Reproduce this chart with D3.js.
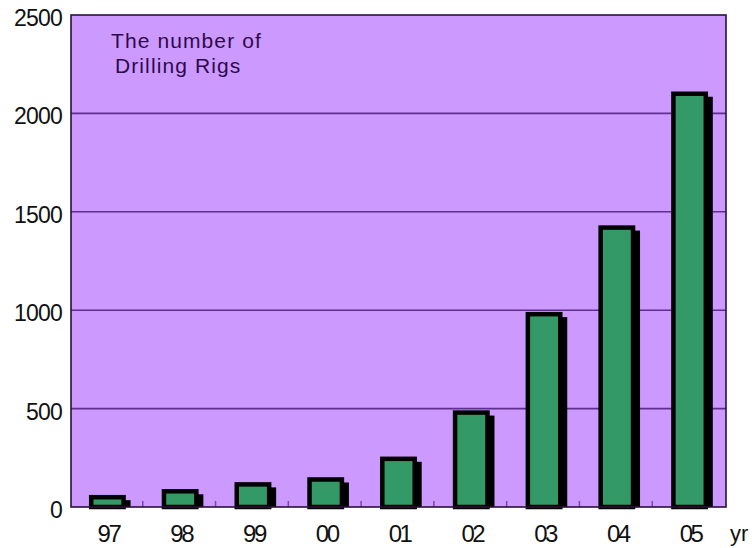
<!DOCTYPE html>
<html>
<head>
<meta charset="utf-8">
<script src="https://cdn.jsdelivr.net/npm/d3@7"></script>
<style>
  body { margin: 0; background: #fff; }
  svg text { font-family: Arial, "Liberation Sans", sans-serif; }
</style>
</head>
<body>
<svg id="chart" width="752" height="548"></svg>
<script>
// ---- data ----
var years = ["97", "98", "99", "00", "01", "02", "03", "04", "05"];
var rigs = [60, 90, 125, 150, 255, 490, 990, 1430, 2110];
var yTicks = [0, 500, 1000, 1500, 2000, 2500];
var titleLines = ["The number of", "Drilling Rigs"];

var svg = d3.select("#chart");
var plotLeft = 71, plotRight = 726, plotTop = 15, plotBottom = 507;

var x = d3.scaleBand().domain(years).range([plotLeft, plotRight]).paddingInner(0.5).paddingOuter(0.25);
var y = d3.scaleLinear().domain([0, 2500]).range([plotBottom, plotTop]);

// plot background
svg.append("rect")
  .attr("x", plotLeft).attr("y", plotTop)
  .attr("width", plotRight - plotLeft).attr("height", plotBottom - plotTop)
  .attr("fill", "#cc99ff");

// gridlines
svg.selectAll(".grid")
  .data(yTicks.filter(function(d) { return d > 0 && d < 2500; }))
  .enter().append("line")
  .attr("x1", plotLeft).attr("x2", plotRight)
  .attr("y1", function(d) { return y(d); })
  .attr("y2", function(d) { return y(d); })
  .attr("stroke", "#5e2f8c")
  .attr("stroke-width", 1.6);

// category tick marks on the bottom axis
svg.selectAll(".tk")
  .data(years.slice(1))
  .enter().append("line")
  .attr("x1", function(d) { return x(d) - x.step() * x.paddingInner() / 2 - 1; })
  .attr("x2", function(d) { return x(d) - x.step() * x.paddingInner() / 2 - 1; })
  .attr("y1", plotBottom).attr("y2", plotBottom - 6)
  .attr("stroke", "#7a4a9a")
  .attr("stroke-width", 1.5);

// bars: shadow + outlined green bar
var bw = x.bandwidth();
var bars = svg.selectAll(".bar")
  .data(years)
  .enter().append("g");

bars.append("rect")
  .attr("x", function(d) { return x(d) + 5; })
  .attr("y", function(d, i) { return y(rigs[i]) + 5; })
  .attr("width", bw)
  .attr("height", function(d, i) { return Math.max(0, plotBottom - y(rigs[i]) - 5); })
  .attr("fill", "#000");

bars.append("rect")
  .attr("x", function(d) { return x(d) + 2; })
  .attr("y", function(d, i) { return y(rigs[i]) + 2; })
  .attr("width", bw - 4)
  .attr("height", function(d, i) { return plotBottom - y(rigs[i]) - 2; })
  .attr("fill", "#339966")
  .attr("stroke", "#000")
  .attr("stroke-width", 4.5);

// frame
svg.append("rect")
  .attr("x", plotLeft).attr("y", plotTop)
  .attr("width", plotRight - plotLeft).attr("height", plotBottom - plotTop)
  .attr("fill", "none")
  .attr("stroke", "#2a1038")
  .attr("stroke-width", 1.6);

// y labels
svg.selectAll(".yl")
  .data(yTicks)
  .enter().append("text")
  .attr("x", 62)
  .attr("y", function(d) { return y(d) + 11; })
  .attr("text-anchor", "end")
  .attr("font-size", 23)
  .attr("letter-spacing", -0.8)
  .attr("fill", "#111")
  .text(function(d) { return d; });

// x labels
svg.selectAll(".xl")
  .data(years)
  .enter().append("text")
  .attr("x", function(d) { return x(d) + bw / 2 + 1; })
  .attr("y", 542)
  .attr("text-anchor", "middle")
  .attr("font-size", 24)
  .attr("letter-spacing", -2.5)
  .attr("fill", "#111")
  .text(function(d) { return d; });

svg.append("text")
  .attr("x", 730).attr("y", 541)
  .attr("font-size", 22)
  .attr("fill", "#111")
  .text("yr");

// title inside plot
svg.selectAll(".tt")
  .data(titleLines)
  .enter().append("text")
  .attr("x", function(d, i) { return i == 0 ? 111 : 115; })
  .attr("y", function(d, i) { return 48 + i * 25; })
  .attr("font-size", 21)
  .attr("letter-spacing", 1.1)
  .attr("fill", "#2e0a4a")
  .text(function(d) { return d; });
</script>
</body>
</html>
